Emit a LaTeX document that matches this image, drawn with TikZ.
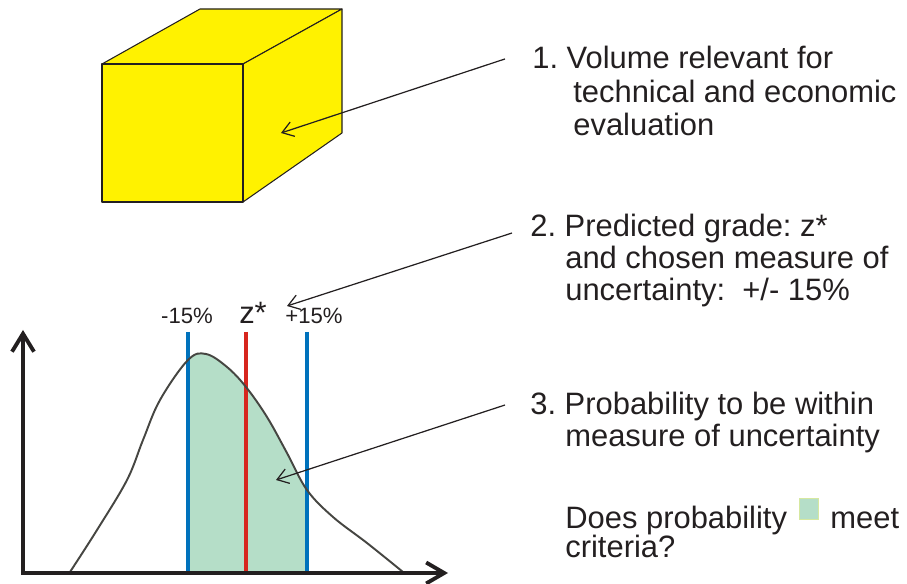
\documentclass[tikz,border=0pt]{standalone}
\usepackage{fontspec}
\setmainfont{Liberation Sans}
\usetikzlibrary{arrows.meta,calc}
\frenchspacing
\definecolor{cubeyellow}{RGB}{255,242,0}
\definecolor{probgreen}{RGB}{181,222,200}
\definecolor{keyedge}{RGB}{214,232,160}
\definecolor{limitblue}{RGB}{0,114,188}
\definecolor{gradered}{RGB}{215,38,30}
\definecolor{inkgray}{RGB}{35,31,32}
\definecolor{curvegray}{RGB}{70,70,66}
\tikzset{
  txt/.style={anchor=base west,inner sep=0pt,text=inkgray,font=\fontsize{17.6}{21}\selectfont},
  pct/.style={anchor=base,inner sep=0pt,text=inkgray,font=\fontsize{12.6}{15}\selectfont},
  cubeface/.style={fill=cubeyellow,draw=inkgray,line width=0.6pt,line join=round},
  pointer/.style={-{Straight Barb[length=0.22cm,width=0.3cm]},line width=0.7pt,draw=inkgray},
  axis/.style={{Straight Barb[length=0.36cm,width=0.44cm]}-{Straight Barb[length=0.36cm,width=0.42cm]},line width=2.2pt,draw=inkgray},
  limit/.style={line width=2.2pt,draw=limitblue},
  bell/.style={line width=1.1pt,draw=curvegray},
  swatch/.style={fill=probgreen,draw=keyedge,line width=0.5pt,minimum width=0.38cm,minimum height=0.42cm,inner sep=0pt},
}
\begin{document}
\begin{tikzpicture}[x=0.02cm,y=-0.02cm]
\useasboundingbox (0,0) rectangle (907,584);

\filldraw[cubeface] (102,64) -- (200,9) -- (342,9) -- (243,64) -- cycle;
\filldraw[cubeface] (243,64) -- (342,9) -- (342,133) -- (243,202) -- cycle;
\filldraw[cubeface] (102,64) rectangle (243,202);

\begin{scope}
\clip (188,300) rectangle (307,573);
\fill[probgreen] (70,573) -- plot[smooth,tension=0.6] coordinates {(70,572) (97,530) (127,480) (143,440) (160,400) (188,360) (206,354) (227,367) (246,387) (267,417) (287,453) (307,490) (333,517) (367,543) (403,572)} -- cycle;
\end{scope}

\draw[limit] (188,332) -- (188,573);
\draw[limit] (307,332) -- (307,573);
\draw[limit,draw=gradered] (246,332) -- (246,573);

\draw[bell] plot[smooth,tension=0.6] coordinates {(70,572) (97,530) (127,480) (143,440) (160,400) (188,360) (206,354) (227,367) (246,387) (267,417) (287,453) (307,490) (333,517) (367,543) (403,572)};

\coordinate (origin) at (23,573);
\coordinate (ytip) at (23,330);
\coordinate (xtip) at (448,573);
\draw[axis] (ytip) -- (origin) -- (xtip);

\node[pct] (lowlim) at (187,324) {-15\%};
\node[pct,font=\fontsize{17.6}{21}\selectfont] (zstar) at (253,324) {z*};
\node[pct] (uplim) at (314,324) {+15\%};

\node[txt] (item1) at (532,69) {1. Volume relevant for};
\node[txt] (item1b) at (573,103) {technical and economic};
\node[txt] (item1c) at (573,136) {evaluation};

\node[txt] (item2) at (530,237) {2. Predicted grade: z*};
\node[txt] (item2b) at (565,269) {and chosen measure of};
\node[txt] (item2c) at (565,301) {uncertainty:\ \ +/- 15\%};

\node[txt] (item3) at (530,415) {3. Probability to be within};
\node[txt] (item3b) at (565,447) {measure of uncertainty};
\node[txt] (ask) at (565,528) {Does probability};
\node[swatch] (key) at (808.5,508.5) {};
\node[txt] (ask2) at (830,528) {meet};
\node[txt] (ask3) at (565,558) {criteria?};

\coordinate (cubept) at (281,133);
\coordinate (gradept) at (287,306);
\coordinate (areapt) at (276,480);
\draw[pointer] ($(item1.west)+(-27,1)$) -- (cubept);
\draw[pointer] ($(item2.west)+(-18,4)$) -- (gradept);
\draw[pointer] ($(item3.west)+(-25,-2)$) -- (areapt);
\end{tikzpicture}
\end{document}
